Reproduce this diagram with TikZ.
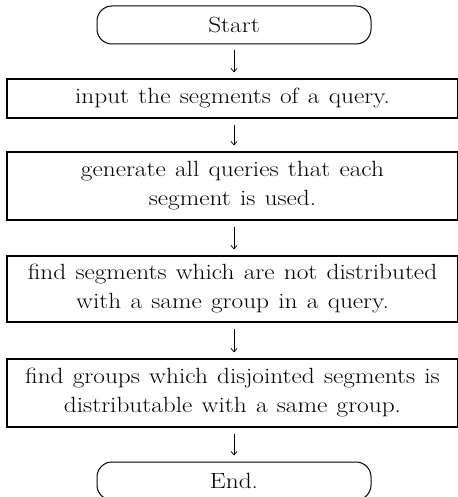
\documentclass[tikz,border=0pt]{standalone}
\usepackage{fontspec}
\setmainfont{Latin Modern Roman}[FakeStretch=1.15]
\usetikzlibrary{arrows.meta}
\newcommand{\flowfont}{\fontsize{22}{29}\selectfont\spaceskip=0.42em plus 0.1em\relax}
\begin{document}
\begin{tikzpicture}[x=1pt,y=-1pt,
  every node/.style={font=\flowfont},
  box/.style={draw, line width=1.1pt, minimum width=451pt, align=center, inner sep=0pt},
  term/.style={draw, line width=1pt, rounded corners=15pt, minimum width=274pt, minimum height=38pt, inner sep=0pt},
  flow/.style={line width=0.7pt, -{Straight Barb[length=3.5pt,width=6pt]}, shorten <=6pt, shorten >=6pt}]
\useasboundingbox (0,0) rectangle (457,497);
\node[term] (s) at (234,25) {Start};
\node[box, minimum height=39pt] (b1) at (232.5,98.5) {input the segments of a query.};
\node[box, minimum height=68pt] (b2) at (232.5,186) {generate all queries that each\\segment is used.};
\node[box, minimum height=66pt] (b3) at (232.5,289) {find segments which are not distributed\\with a same group in a query.};
\node[box, minimum height=68pt] (b4) at (232.5,393) {find groups which disjointed segments is\\distributable with a same group.};
\node[term] (e) at (234,481) {End.};
\draw[flow] (s.south) -- (s.south |- b1.north);
\draw[flow] (s.south |- b1.south) -- (s.south |- b2.north);
\draw[flow] (s.south |- b2.south) -- (s.south |- b3.north);
\draw[flow] (s.south |- b3.south) -- (s.south |- b4.north);
\draw[flow] (s.south |- b4.south) -- (e.north);
\end{tikzpicture}
\end{document}
